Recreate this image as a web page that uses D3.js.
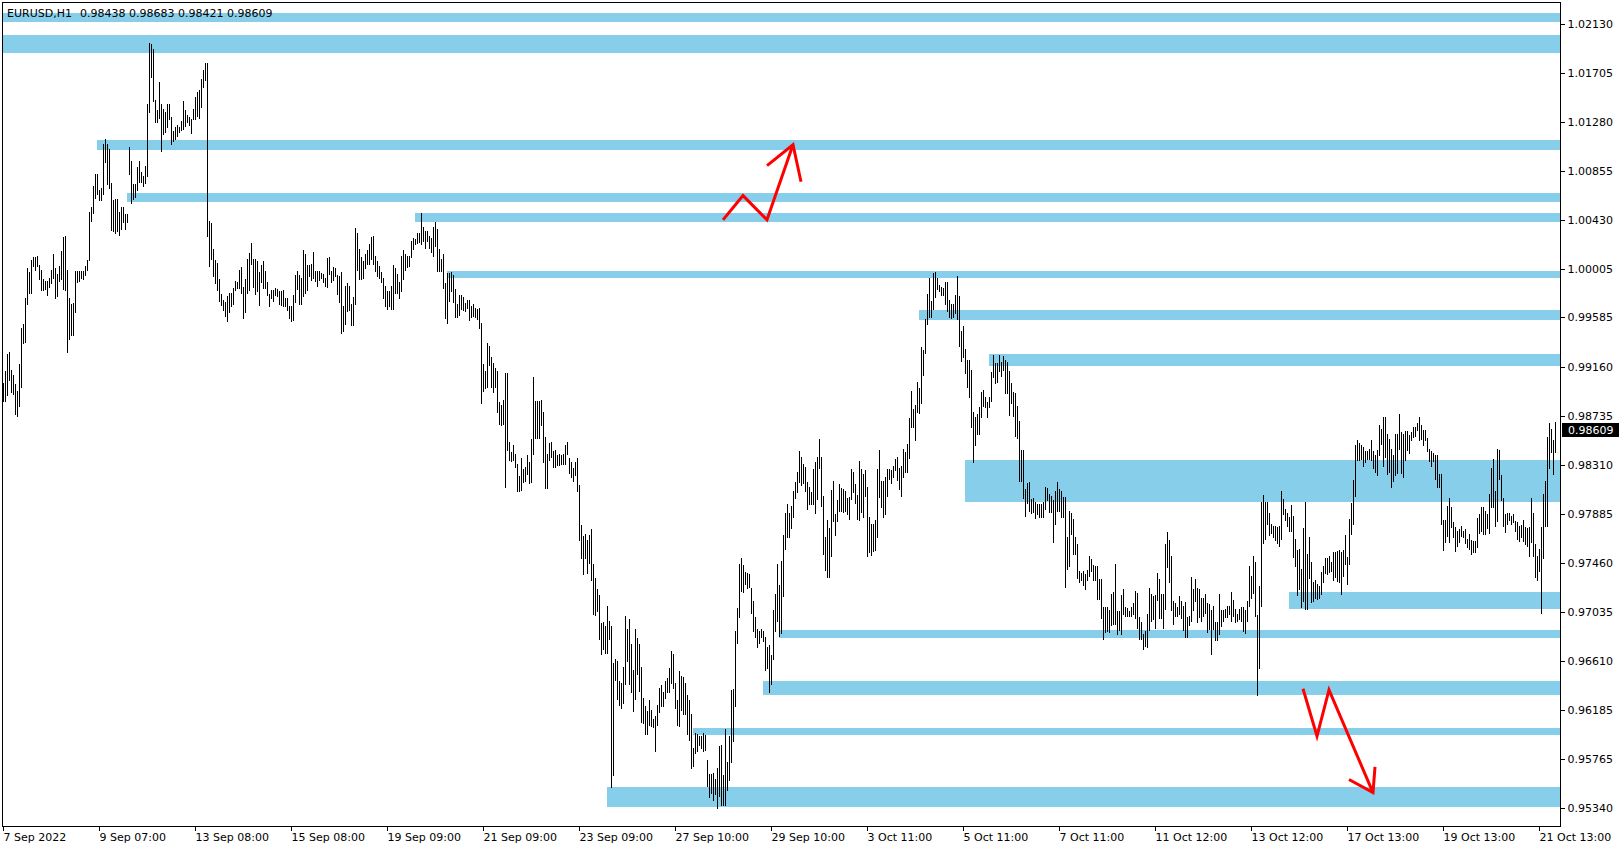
<!DOCTYPE html>
<html><head><meta charset="utf-8">
<script src="https://cdn.jsdelivr.net/npm/d3@7/dist/d3.min.js"></script>
<style>
html,body{margin:0;padding:0;background:#fff;}
svg{display:block;}
text{font-family:"DejaVu Sans",Tahoma,sans-serif;font-size:11px;fill:#000;}
</style></head>
<body>
<svg id="chart" width="1624" height="850"></svg>
<script>
// ---- data (prices in pips, 1 pip = 0.0001) ----
const symbolLabel = "EURUSD,H1";
const lastOHLC = [0.98438, 0.98683, 0.98421, 0.98609];
const PIP = 0.0001;

const barHigh = [
9902,9912,9927,9929,9913,9909,9901,9895,9918,9949,9953,9975,10001,9998,10008,10011,10011,10012,10004,10000,
9992,9990,9990,9993,10000,10013,10001,9996,10003,10016,10028,10029,10000,9975,9970,9971,9999,9999,9999,9999,
9999,10003,10008,10050,10054,10072,10083,10083,10069,10071,10109,10113,10109,10104,10075,10060,10061,10061,10050,10054,
10054,10048,10048,10106,10094,10074,10074,10089,10094,10084,10081,10090,10143,10196,10195,10191,10147,10138,10162,10143,
10139,10136,10143,10143,10132,10120,10123,10125,10123,10129,10146,10138,10134,10132,10130,10139,10149,10154,10155,10165,
10173,10179,10179,10042,10040,10018,10008,10006,9992,9979,9974,9972,9977,9980,9980,9984,9990,9989,10000,10002,
9985,9992,10009,10014,10023,10009,10009,10007,9998,10004,10007,9999,9989,9979,9982,9982,9984,9983,9981,9981,
9982,9975,9975,9968,9968,9978,9995,9999,9995,9993,10017,10013,10004,10004,10005,10015,9999,9999,9999,9997,
9996,9993,10010,10011,9999,10002,10001,9995,9994,9998,9968,9986,9988,9986,9970,9976,10036,10032,10018,10011,
10007,10013,10017,10022,10028,10029,10012,10007,10003,9998,9993,9986,9981,9981,9986,10004,10001,9996,9989,10012,
10017,10013,10012,10012,10025,10027,10026,10032,10032,10049,10037,10033,10033,10029,10027,10037,10041,10035,10018,10009,
10013,9988,9997,9997,9998,9995,9983,9970,9978,9978,9976,9971,9974,9974,9968,9970,9967,9966,9967,9954,
9918,9912,9936,9934,9924,9919,9915,9912,9885,9883,9887,9910,9910,9851,9842,9848,9840,9832,9821,9837,
9827,9829,9839,9833,9853,9907,9886,9886,9886,9887,9877,9855,9840,9850,9851,9843,9844,9839,9840,9839,
9840,9848,9851,9837,9833,9828,9833,9837,9813,9779,9769,9771,9766,9770,9775,9745,9733,9723,9718,9694,
9695,9691,9709,9696,9691,9659,9663,9661,9644,9642,9656,9700,9689,9697,9676,9653,9689,9681,9676,9656,
9629,9622,9618,9627,9619,9611,9613,9623,9638,9640,9634,9644,9646,9655,9670,9667,9642,9627,9652,9648,
9647,9642,9632,9627,9615,9586,9599,9598,9596,9596,9599,9597,9575,9563,9563,9564,9559,9568,9587,9588,
9562,9602,9574,9596,9636,9637,9687,9707,9745,9750,9744,9738,9737,9736,9724,9713,9699,9689,9687,9689,
9687,9682,9673,9675,9666,9705,9719,9745,9727,9748,9770,9789,9797,9789,9795,9808,9816,9825,9843,9838,
9832,9829,9816,9812,9807,9827,9833,9838,9853,9838,9804,9768,9783,9776,9809,9817,9788,9800,9814,9811,
9810,9808,9802,9803,9827,9825,9814,9805,9834,9827,9823,9826,9812,9786,9780,9780,9783,9827,9844,9817,
9817,9820,9827,9827,9826,9830,9836,9838,9828,9830,9845,9842,9849,9871,9895,9879,9883,9903,9897,9933,
9930,9957,9979,9993,9973,9997,9998,9993,9987,9985,9984,9989,9989,9974,9970,9970,9978,9994,9977,9947,
9951,9931,9922,9922,9913,9877,9872,9875,9881,9894,9896,9890,9885,9890,9911,9926,9919,9919,9926,9920,
9925,9922,9920,9912,9902,9894,9893,9882,9869,9844,9844,9810,9815,9816,9801,9802,9799,9797,9797,9797,
9799,9812,9811,9806,9804,9800,9808,9816,9810,9808,9803,9803,9768,9791,9789,9784,9768,9762,9739,9737,
9739,9736,9740,9752,9749,9744,9743,9743,9732,9732,9708,9708,9708,9705,9719,9721,9745,9704,9704,9718,
9723,9708,9707,9704,9708,9711,9722,9720,9699,9695,9684,9687,9702,9724,9719,9717,9718,9737,9732,9719,
9719,9762,9773,9766,9752,9713,9711,9708,9717,9713,9709,9712,9699,9700,9734,9723,9732,9724,9723,9716,
9716,9719,9711,9710,9705,9709,9695,9695,9719,9705,9705,9706,9709,9709,9721,9714,9706,9702,9706,9708,
9708,9705,9713,9743,9735,9752,9747,9701,9726,9799,9805,9799,9799,9789,9780,9778,9778,9777,9778,9808,
9801,9793,9789,9786,9796,9787,9767,9757,9758,9741,9776,9799,9754,9768,9747,9729,9731,9728,9726,9738,
9743,9750,9750,9752,9747,9755,9755,9756,9757,9755,9757,9770,9751,9784,9798,9818,9848,9852,9850,9848,
9846,9843,9843,9845,9852,9843,9839,9844,9865,9862,9872,9872,9858,9853,9845,9839,9858,9858,9875,9859,
9858,9860,9860,9857,9859,9864,9864,9867,9872,9865,9861,9861,9854,9845,9843,9841,9839,9839,9823,9823,
9783,9783,9795,9802,9794,9781,9777,9774,9775,9778,9774,9775,9767,9771,9766,9765,9765,9785,9788,9794,
9794,9791,9788,9806,9828,9836,9808,9845,9844,9822,9802,9788,9789,9789,9787,9788,9782,9781,9778,9779,
9783,9777,9776,9777,9802,9789,9762,9752,9758,9777,9806,9817,9855,9867,9862,9852,9868
];
const barLow = [
9886,9886,9891,9904,9894,9892,9875,9873,9882,9898,9936,9937,9970,9980,9980,10003,10000,10003,9992,9982,
9982,9983,9978,9985,9988,9993,9975,9977,9990,9992,9983,9982,9929,9940,9943,9943,9963,9989,9990,9993,
9992,9995,10000,10008,10042,10049,10062,10065,10060,10060,10065,10093,10074,10071,10034,10033,10032,10033,10030,10035,
10041,10035,10041,10083,10058,10061,10063,10069,10076,10076,10072,10075,10081,10136,10167,10146,10128,10128,10131,10103,
10117,10119,10123,10130,10109,10111,10113,10116,10119,10121,10122,10124,10128,10125,10118,10130,10130,10133,10131,10141,
10158,10164,10029,10003,10009,9994,9988,9982,9973,9969,9965,9960,9955,9963,9968,9970,9982,9984,9984,9980,
9958,9963,9980,9982,10005,9985,9979,9981,9969,9989,9984,9984,9978,9968,9975,9973,9978,9977,9970,9969,
9968,9968,9965,9958,9955,9956,9972,9983,9970,9970,9977,9980,9982,9994,9991,9993,9990,9986,9991,9993,
9989,9986,9985,9996,9989,9991,9994,9979,9972,9945,9947,9953,9964,9965,9952,9952,9970,10000,9992,9992,
9993,10001,10005,10005,10009,10005,9999,9994,9993,9989,9975,9968,9966,9968,9966,9966,9980,9980,9975,9981,
9992,10000,10002,10003,10011,10018,10022,10023,10024,10022,10025,10019,10025,10019,10015,10012,10020,9999,9999,9999,
9984,9958,9954,9973,9981,9972,9959,9959,9961,9966,9965,9964,9967,9956,9959,9960,9959,9957,9949,9884,
9895,9897,9898,9917,9898,9894,9898,9877,9866,9865,9866,9812,9844,9835,9834,9835,9829,9808,9808,9809,
9816,9817,9823,9815,9816,9840,9854,9854,9854,9865,9833,9811,9811,9835,9838,9829,9829,9831,9831,9832,
9832,9832,9840,9824,9820,9817,9822,9808,9766,9750,9736,9750,9737,9746,9731,9702,9701,9704,9680,9667,
9671,9668,9668,9680,9552,9562,9645,9628,9623,9620,9625,9641,9661,9641,9634,9618,9628,9650,9635,9608,
9607,9598,9598,9606,9605,9604,9583,9606,9617,9622,9622,9629,9634,9634,9642,9638,9620,9606,9605,9619,
9615,9615,9598,9593,9568,9570,9581,9583,9588,9586,9583,9584,9553,9543,9547,9541,9546,9534,9544,9536,
9536,9536,9549,9558,9574,9592,9622,9677,9699,9722,9721,9728,9724,9725,9703,9687,9682,9673,9677,9682,
9678,9653,9655,9634,9641,9663,9687,9696,9683,9685,9717,9758,9768,9768,9776,9786,9802,9807,9816,9813,
9815,9808,9793,9797,9797,9797,9789,9801,9828,9795,9754,9740,9734,9734,9752,9782,9770,9782,9791,9791,
9790,9791,9788,9784,9801,9807,9798,9784,9783,9790,9786,9804,9752,9755,9753,9756,9757,9768,9803,9794,
9786,9788,9804,9819,9815,9820,9826,9818,9810,9804,9820,9825,9825,9837,9864,9864,9852,9877,9876,9884,
9909,9928,9953,9959,9959,9966,9976,9983,9981,9978,9978,9970,9964,9959,9958,9959,9962,9957,9934,9921,
9924,9910,9898,9890,9864,9833,9848,9858,9858,9872,9882,9881,9872,9881,9886,9907,9902,9903,9912,9908,
9913,9893,9893,9874,9884,9873,9856,9854,9817,9817,9802,9787,9798,9791,9789,9790,9785,9788,9786,9786,
9786,9793,9800,9790,9790,9764,9780,9791,9791,9786,9786,9725,9741,9743,9771,9754,9754,9733,9729,9731,
9727,9723,9731,9735,9739,9731,9731,9715,9715,9698,9680,9686,9687,9686,9692,9693,9693,9684,9688,9684,
9702,9700,9700,9700,9700,9702,9698,9690,9680,9680,9671,9674,9673,9688,9696,9697,9690,9714,9698,9698,
9690,9706,9742,9729,9705,9693,9700,9700,9702,9698,9688,9682,9682,9692,9696,9705,9713,9695,9699,9696,
9700,9703,9686,9689,9667,9689,9679,9679,9684,9691,9696,9699,9699,9702,9696,9700,9695,9696,9697,9696,
9687,9685,9696,9709,9716,9720,9700,9632,9655,9709,9763,9767,9780,9770,9772,9768,9766,9763,9761,9767,
9788,9783,9778,9774,9774,9751,9743,9718,9723,9708,9713,9706,9706,9733,9712,9713,9716,9715,9716,9719,
9729,9737,9736,9738,9739,9731,9734,9730,9729,9719,9735,9745,9728,9745,9771,9780,9804,9835,9835,9836,
9830,9833,9836,9836,9835,9828,9825,9822,9839,9849,9830,9838,9823,9825,9812,9817,9822,9824,9845,9824,
9820,9835,9844,9841,9852,9855,9856,9861,9852,9853,9848,9852,9843,9834,9830,9834,9819,9812,9812,9780,
9757,9764,9769,9764,9777,9768,9756,9761,9764,9769,9768,9763,9760,9758,9754,9755,9755,9760,9772,9774,
9771,9771,9776,9772,9794,9794,9778,9782,9819,9800,9778,9773,9780,9783,9780,9781,9774,9767,9765,9768,
9765,9762,9761,9752,9764,9752,9734,9731,9739,9703,9750,9778,9778,9828,9842,9823,9842
];

// time axis labels: one every 48 bars
const timeLabels = ["7 Sep 2022","9 Sep 07:00","13 Sep 08:00","15 Sep 08:00","19 Sep 09:00","21 Sep 09:00",
  "23 Sep 09:00","27 Sep 10:00","29 Sep 10:00","3 Oct 11:00","5 Oct 11:00","7 Oct 11:00","11 Oct 12:00",
  "13 Oct 12:00","17 Oct 13:00","19 Oct 13:00","21 Oct 13:00"];
const timeLabelBars = [0,48,96,144,192,240,288,336,384,432,480,528,576,624,672,720,768];

// price axis labels
const priceTicks = [1.02130,1.01705,1.01280,1.00855,1.00430,1.00005,0.99585,0.99160,0.98735,
  0.98310,0.97885,0.97460,0.97035,0.96610,0.96185,0.95765,0.95340];

// horizontal zones: [startBar, upper price, lower price]
const zoneStart = [0, 0, 47, 62, 206, 222, 458, 493, 481, 643, 388, 380, 345, 302];
const zoneTop    = [1.02218,1.02030,1.01120,1.00661,1.00490,0.99985,0.99647,0.99272,0.98348,0.97206,0.96875,0.96433,0.96034,0.95523];
const zoneBottom = [1.02146,1.01874,1.01034,1.00583,1.00410,0.99927,0.99560,0.99165,0.97986,0.97057,0.96808,0.96312,0.95973,0.95344];

// red arrows: [bar, price] vertices, plus arrowhead wings
const arrowUpPath   = [[360,1.00430],[370,1.00640],[382,1.00430],[395,1.01080]];
const arrowUpHead   = [[382,1.00900],[395,1.01080],[399,1.00760]];
const arrowDownPath = [[650,0.96370],[657,0.95960],[663,0.96360],[685,0.95470]];
const arrowDownHead = [[673,0.95584],[685,0.95470],[686,0.95693]];

// ---- drawing ----
const W = 1624, H = 850;
const plotLeft = 2, plotRight = 1560, plotTop = 2, plotBottom = 826;
const svg = d3.select("#chart");

const x = d3.scaleLinear().domain([0, 778.5]).range([3, plotRight]);
const y = d3.scaleLinear().domain([0.95340, 1.02130]).range([807.7, 23.5]);

svg.append("rect").attr("width", W).attr("height", H).attr("fill", "#fff");

svg.append("clipPath").attr("id", "plotClip").append("rect")
  .attr("x", plotLeft + 1).attr("y", plotTop + 1)
  .attr("width", plotRight - plotLeft - 1).attr("height", plotBottom - plotTop - 1);

const plot = svg.append("g").attr("clip-path", "url(#plotClip)");

// zones
const zones = zoneStart.map((s, i) => ({s, t: zoneTop[i], b: zoneBottom[i]}));
plot.selectAll("rect.zone").data(zones).enter().append("rect")
  .attr("class", "zone")
  .attr("x", d => Math.round(x(d.s)))
  .attr("y", d => Math.round(y(d.t)))
  .attr("width", d => plotRight - Math.round(x(d.s)))
  .attr("height", d => Math.max(1, Math.round(y(d.b)) - Math.round(y(d.t))))
  .attr("fill", "#87CEEB");

// bars
const bars = barHigh.map((h, i) => ({i, h: h * PIP, l: barLow[i] * PIP}));
plot.selectAll("rect.bar").data(bars).enter().append("rect")
  .attr("class", "bar")
  .attr("x", d => Math.round(x(d.i)))
  .attr("y", d => Math.round(y(d.h)))
  .attr("width", 1)
  .attr("height", d => Math.max(1, Math.round(y(d.l)) - Math.round(y(d.h)) + 1))
  .attr("fill", "#000")
  .attr("shape-rendering", "crispEdges");

// arrows
const line = d3.line().x(d => x(d[0])).y(d => y(d[1]));
[arrowUpPath, arrowUpHead, arrowDownPath, arrowDownHead].forEach(pts => {
  plot.append("path").attr("d", line(pts))
    .attr("fill", "none").attr("stroke", "#ff0000").attr("stroke-width", 3)
    .attr("stroke-linejoin", "miter").attr("stroke-linecap", "butt");
});

// frame
svg.append("rect").attr("x", plotLeft + 0.5).attr("y", plotTop + 0.5)
  .attr("width", plotRight - plotLeft).attr("height", plotBottom - plotTop)
  .attr("fill", "none").attr("stroke", "#000").attr("stroke-width", 1)
  .attr("shape-rendering", "crispEdges");

// price axis
const yAxis = d3.axisRight(y).tickValues(priceTicks).tickSize(4).tickPadding(3)
  .tickFormat(d3.format(".5f"));
const ya = svg.append("g").attr("transform", `translate(${plotRight + 0.5},0)`).call(yAxis);
ya.select(".domain").remove();
ya.selectAll("line").attr("stroke", "#000").attr("shape-rendering", "crispEdges");
ya.selectAll("text").attr("font-family", "DejaVu Sans").attr("font-size", 11).attr("fill", "#000");

// time axis
const xAxis = d3.axisBottom(x).tickValues(timeLabelBars).tickSize(4)
  .tickFormat((d, i) => timeLabels[i]);
const xa = svg.append("g").attr("transform", `translate(0,${plotBottom + 0.5})`).call(xAxis);
xa.select(".domain").remove();
xa.selectAll(".tick line").attr("stroke", "#000").attr("shape-rendering", "crispEdges");
xa.selectAll(".tick text").attr("text-anchor", "start").attr("x", 0).attr("y", 7).attr("dy", "0.71em")
  .attr("font-family", "DejaVu Sans").attr("font-size", 11).attr("fill", "#000");

// last price label
const lastClose = lastOHLC[3];
const ly = Math.round(y(lastClose));
svg.append("rect").attr("x", plotRight + 2).attr("y", ly - 7).attr("width", 57).attr("height", 14).attr("fill", "#000");
svg.append("text").attr("x", plotRight + 8).attr("y", ly).attr("dy", "0.35em")
  .style("fill", "#fff").text(d3.format(".5f")(lastClose));

// header
svg.append("text").attr("x", 7).attr("y", 17).text(symbolLabel);
svg.append("text").attr("x", 80).attr("y", 17).attr("xml:space", "preserve")
  .text(lastOHLC.map(d3.format(".5f")).join(" "));
</script>
</body></html>
